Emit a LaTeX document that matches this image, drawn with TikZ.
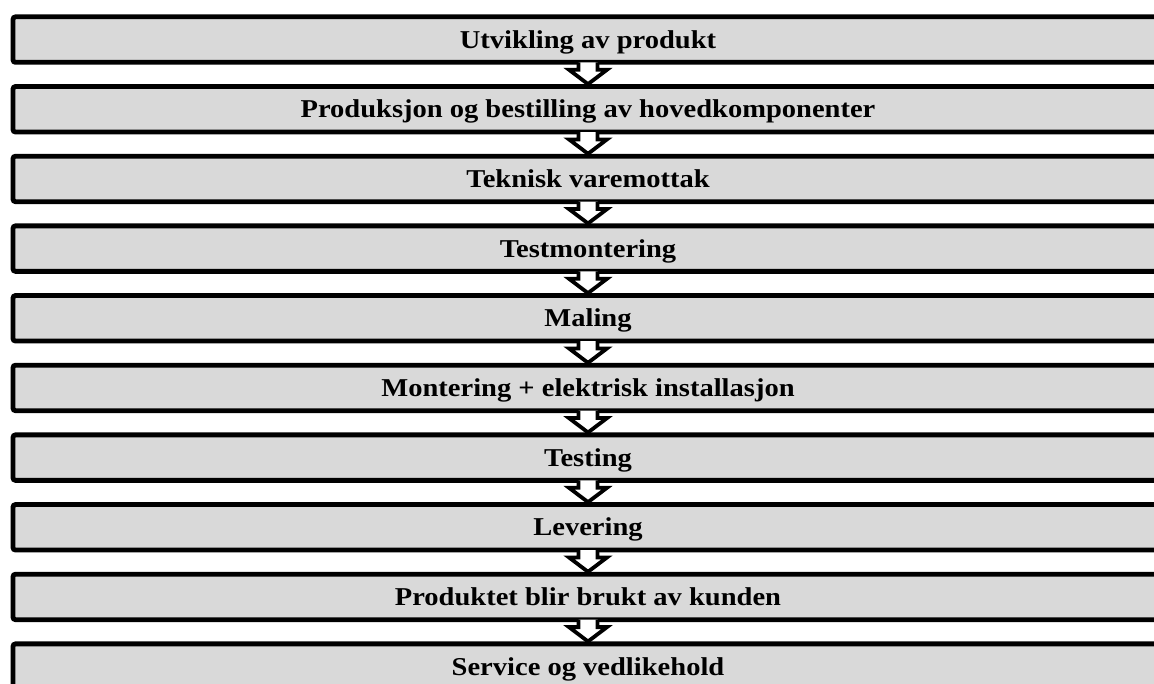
\documentclass[tikz,border=0pt]{standalone}
\usepackage{fontspec}
\setmainfont[FakeStretch=1.11]{Liberation Serif}
\usetikzlibrary{calc}
\definecolor{boxgray}{HTML}{D9D9D9}
\tikzset{
  stagebox/.style={draw=black, fill=boxgray, line width=4.8pt, rounded corners=2.5pt,
    minimum width=1150pt, minimum height=45.5pt, inner sep=0pt,
    text height=17pt, text depth=0pt,
    font=\fontsize{25.7pt}{28pt}\selectfont\bfseries, text=black},
  flowline/.style={draw=black, line width=3.8pt, line join=miter},
  flowfill/.style={fill=white}
}
\begin{document}
\begin{tikzpicture}[x=1pt,y=1pt]
\useasboundingbox (0,0) rectangle (1154,-684);
\def\pitch{69.67}
\foreach \i/\t in {1/Utvikling av produkt,
  2/Produksjon og bestilling av hovedkomponenter,
  3/Teknisk varemottak,
  4/Testmontering,
  5/Maling,
  6/Montering + elektrisk installasjon,
  7/Testing,
  8/Levering,
  9/Produktet blir brukt av kunden,
  10/Service og vedlikehold}{
  \pgfmathsetmacro{\yy}{-39.6-(\i-1)*\pitch}
  \node[stagebox] (b\i) at (588,\yy) {\t};
}
\foreach \i [evaluate=\i as \j using int(\i+1)] in {1,...,9}{
  \fill[flowfill] ($(b\i.south)+(-9.5,2.4)$) -- ($(b\i.south)+(-9.5,-5)$)
    -- ($(b\i.south)+(-19,-5)$) -- (b\j.north)
    -- ($(b\i.south)+(19,-5)$) -- ($(b\i.south)+(9.5,-5)$)
    -- ($(b\i.south)+(9.5,2.4)$) -- cycle;
  \draw[flowline] ($(b\i.south)+(-9.5,2.4)$) -- ($(b\i.south)+(-9.5,-5)$)
    -- ($(b\i.south)+(-19,-5)$) -- (b\j.north)
    -- ($(b\i.south)+(19,-5)$) -- ($(b\i.south)+(9.5,-5)$)
    -- ($(b\i.south)+(9.5,2.4)$);
}
\end{tikzpicture}
\end{document}
